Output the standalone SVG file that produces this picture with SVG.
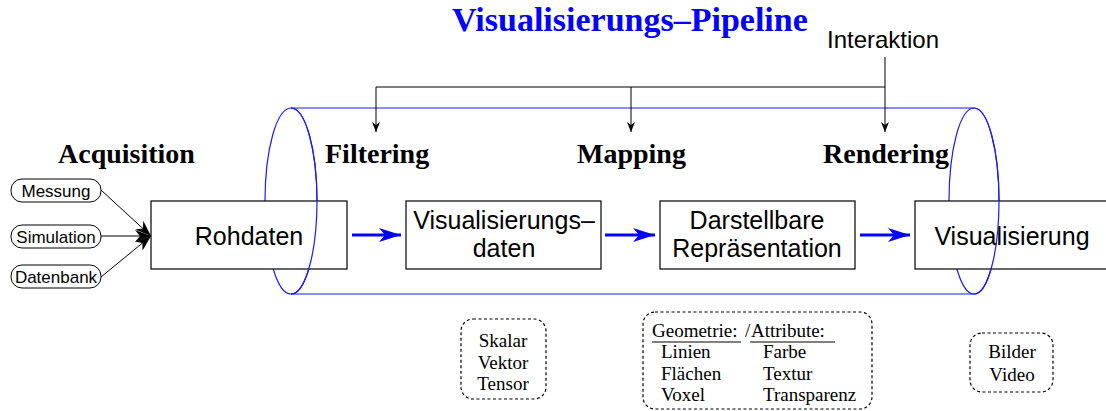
<svg xmlns="http://www.w3.org/2000/svg" width="1106" height="411" viewBox="0 0 1106 411">
<style>
.serif{font-family:"Liberation Serif","Times New Roman",serif;}
.sans{font-family:"Liberation Sans",Arial,sans-serif;}
.phase{font-size:28px;font-weight:bold;fill:#000;}
.box{fill:#fff;stroke:#000;stroke-width:1.2;}
.pill{fill:#fff;stroke:#000;stroke-width:1;}
.ptxt{font-size:17px;fill:#000;}
.btxt{font-size:25px;fill:#000;}
.cyl{fill:none;stroke:#1a1aff;stroke-width:1.2;}
.dash{fill:none;stroke:#000;stroke-width:1.2;stroke-dasharray:3,2.5;}
.small{font-size:19px;fill:#000;}
.blk{stroke:#000;stroke-width:1;fill:none;}
.blue{stroke:#0000ff;stroke-width:3;fill:none;}
</style>
<defs>
<marker id="ah" viewBox="0 0 10 10" refX="10" refY="5" markerWidth="10" markerHeight="10" markerUnits="userSpaceOnUse" orient="auto">
<path d="M0,1 L10,5 L0,9 L3,5 Z" fill="#000"/>
</marker>
<marker id="ahs" viewBox="0 0 16 12" refX="16" refY="6" markerWidth="16" markerHeight="12" markerUnits="userSpaceOnUse" orient="auto">
<path d="M0,0 L16,6 L0,12 L5,6 Z" fill="#000"/>
</marker>
<marker id="ahb" viewBox="0 0 22 14" refX="22" refY="7" markerWidth="22" markerHeight="14" markerUnits="userSpaceOnUse" orient="auto">
<path d="M0,0 L22,7 L0,14 L6,7 Z" fill="#0000ff"/>
</marker>
</defs>

<text class="serif" x="452" y="31" font-size="34" font-weight="bold" fill="#0000ff">Visualisierungs–Pipeline</text>

<g id="cylinder">
<ellipse class="cyl" cx="291" cy="201" rx="26" ry="93"/>
<ellipse class="cyl" cx="974" cy="201" rx="25" ry="93"/>
<line class="cyl" x1="291" y1="108" x2="974" y2="108"/>
<line class="cyl" x1="291" y1="294" x2="974" y2="294"/>
</g>

<g id="phases">
<text class="serif phase" x="58" y="163">Acquisition</text>
<text class="serif phase" x="325" y="163">Filtering</text>
<text class="serif phase" x="577" y="163">Mapping</text>
<text class="serif phase" x="823" y="163">Rendering</text>
</g>

<g id="interaktion">
<text class="sans" x="827" y="48" font-size="24" fill="#000">Interaktion</text>
</g>

<g id="src-messung">
<rect class="pill" x="11" y="179" width="90" height="23" rx="11" ry="11"/>
<text class="sans ptxt" x="56" y="197" text-anchor="middle">Messung</text>
</g>
<g id="src-simulation">
<rect class="pill" x="11" y="225" width="90" height="23" rx="11" ry="11"/>
<text class="sans ptxt" x="56" y="243" text-anchor="middle">Simulation</text>
</g>
<g id="src-datenbank">
<rect class="pill" x="11" y="265" width="90" height="23" rx="11" ry="11"/>
<text class="sans ptxt" x="56" y="283" text-anchor="middle">Datenbank</text>
</g>

<g id="rohdaten">
<rect class="box" x="151" y="201" width="196" height="68"/>
<text class="sans btxt" x="249" y="245" text-anchor="middle">Rohdaten</text>
</g>
<g id="visdaten">
<rect class="box" x="406" y="201" width="195" height="68"/>
<text class="sans btxt" x="504" y="229" text-anchor="middle">Visualisierungs–</text>
<text class="sans btxt" x="504" y="257" text-anchor="middle">daten</text>
</g>
<g id="darstellbar">
<rect class="box" x="660" y="201" width="195" height="68"/>
<text class="sans btxt" x="757" y="229" text-anchor="middle">Darstellbare</text>
<text class="sans btxt" x="757" y="257" text-anchor="middle">Repräsentation</text>
</g>
<g id="visualisierung">
<rect class="box" x="915" y="201" width="200" height="68"/>
<text class="sans btxt" x="1012" y="245" text-anchor="middle">Visualisierung</text>
</g>

<g id="cylinder-front">
<path class="cyl" d="M291,108 A26,93 0 0 1 291,294"/>
<path class="cyl" d="M974,108 A25,93 0 0 1 974,294"/>
</g>

<g id="connectors">
<line class="blk" x1="101" y1="190" x2="151" y2="236" marker-end="url(#ahs)"/>
<line class="blk" x1="101" y1="236" x2="151" y2="236" marker-end="url(#ahs)"/>
<line class="blk" x1="101" y1="277" x2="151" y2="236" marker-end="url(#ahs)"/>
<line class="blue" x1="352" y1="235" x2="401" y2="235" marker-end="url(#ahb)"/>
<line class="blue" x1="605" y1="235" x2="655" y2="235" marker-end="url(#ahb)"/>
<line class="blue" x1="860" y1="235" x2="910" y2="235" marker-end="url(#ahb)"/>
<polyline class="blk" points="376,87 885,87"/>
<line class="blk" x1="376" y1="87" x2="376" y2="132" marker-end="url(#ah)"/>
<line class="blk" x1="631" y1="87" x2="631" y2="132" marker-end="url(#ah)"/>
<line class="blk" x1="885" y1="57" x2="885" y2="132" marker-end="url(#ah)"/>
</g>

<g id="note-daten">
<rect class="dash" x="461" y="319" width="85" height="80" rx="12" ry="12"/>
<text class="serif small" x="503" y="347" text-anchor="middle">Skalar</text>
<text class="serif small" x="503" y="369" text-anchor="middle">Vektor</text>
<text class="serif small" x="503" y="390" text-anchor="middle">Tensor</text>
</g>

<g id="note-repr">
<rect class="dash" x="643" y="312" width="229" height="97" rx="12" ry="12"/>
<text class="serif small" x="652" y="337">Geometrie:</text>
<text class="serif small" x="745" y="337">/</text>
<text class="serif small" x="751" y="337">Attribute:</text>
<line x1="652" y1="342" x2="741" y2="342" stroke="#000" stroke-width="1"/>
<line x1="750" y1="342" x2="835" y2="342" stroke="#000" stroke-width="1"/>
<text class="serif small" x="661" y="358">Linien</text>
<text class="serif small" x="661" y="380">Flächen</text>
<text class="serif small" x="661" y="401">Voxel</text>
<text class="serif small" x="763" y="358">Farbe</text>
<text class="serif small" x="763" y="380">Textur</text>
<text class="serif small" x="763" y="401">Transparenz</text>
</g>

<g id="note-bild">
<rect class="dash" x="970" y="333" width="83" height="59" rx="12" ry="12"/>
<text class="serif small" x="1012" y="358" text-anchor="middle">Bilder</text>
<text class="serif small" x="1012" y="381" text-anchor="middle">Video</text>
</g>
</svg>
